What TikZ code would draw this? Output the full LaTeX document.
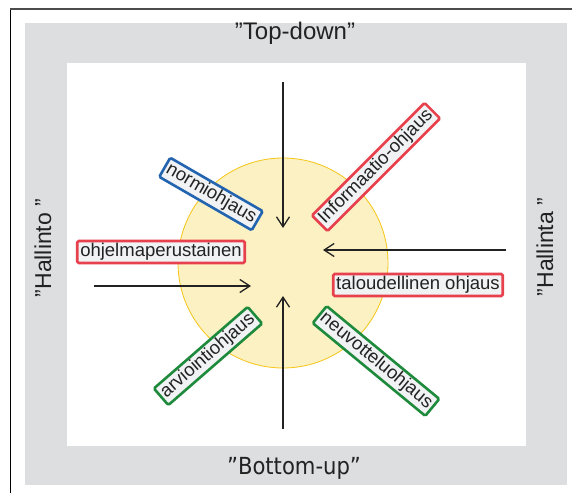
\documentclass[tikz,border=0pt]{standalone}
\usepackage{fontspec}
\setmainfont{Liberation Sans}
\newfontfamily\condfont{DejaVu Sans Condensed}
\usetikzlibrary{arrows.meta}

\definecolor{bandgray}{HTML}{DDDEE0}
\definecolor{corefill}{HTML}{FBF1C2}
\definecolor{coreline}{HTML}{F5C518}
\definecolor{boxfill}{HTML}{F1F2F4}
\definecolor{redline}{HTML}{E8414E}
\definecolor{blueline}{HTML}{2264B0}
\definecolor{greenline}{HTML}{1E8A3C}
\definecolor{ink}{HTML}{222222}

\tikzset{
  steerbox/.style={draw, line width=2.6pt, rounded corners=1.5pt, fill=boxfill,
    inner xsep=3pt, inner ysep=2.5pt, text height=13pt, text depth=4pt,
    font=\fontsize{18.5}{20}\selectfont, text=ink},
  redbox/.style={steerbox, draw=redline},
  bluebox/.style={steerbox, draw=blueline},
  greenbox/.style={steerbox, draw=greenline},
  flow/.style={draw=ink, line width=1.3pt, -{Straight Barb[length=10pt,width=13pt,line width=1.3pt]}},
  sidetitle/.style={font=\fontsize{23}{25}\selectfont, text=ink, inner sep=0pt},
}

\begin{document}
\begin{tikzpicture}[x=1pt, y=-1pt]
  \useasboundingbox (0,0) rectangle (572,493);

  % outer frame (only top and left edges fall inside the page)
  \draw[black, line width=1pt] (10,9) -- (10,493);
  \draw[gray!60!black, line width=1.3pt] (10,9) -- (572,9);

  % grey band and white field
  \fill[bandgray] (25,23) rectangle (567,485);
  \fill[white] (67,63) rectangle (526,446);

  % band titles
  \node[sidetitle, font=\fontsize{24}{26}\selectfont] (top) at (295,33) {”Top-down”};
  \node[sidetitle, font=\condfont\fontsize{23.5}{25}\selectfont] (bottom) at (294,468) {”Bottom-up”};
  \node[sidetitle, rotate=90] (left) at (43,248) {”Hallinto ”};
  \node[sidetitle, rotate=90] (right) at (545,247) {”Hallinta ”};

  % central disc
  \node[circle, draw=coreline, fill=corefill, line width=0.8pt, minimum size=210pt, inner sep=0pt] (core) at (283,263) {};

  % arrow ends
  \coordinate (nIn)  at (283,82);
  \coordinate (nOut) at (283,228);
  \coordinate (sIn)  at (283,429);
  \coordinate (sOut) at (283,296);
  \coordinate (eIn)  at (506,250);
  \coordinate (eOut) at (323,250);
  \coordinate (wIn)  at (94,286);
  \coordinate (wOut) at (251,286);

  \draw[flow] (nIn) -- (nOut);
  \draw[flow] (sIn) -- (sOut);
  \draw[flow] (eIn) -- (eOut);
  \draw[flow] (wIn) -- (wOut);

  % steering instruments
  \node[bluebox, rotate=-30] (norm) at (211,194) {normiohjaus};
  \node[redbox, rotate=45] (info) at (376,167) {Informaatio-ohjaus};
  \node[redbox] (prog) at (161,252) {ohjelmaperustainen};
  \node[redbox] (econ) at (418,285) {taloudellinen ohjaus};
  \node[greenbox, rotate=41] (eval) at (208,356) {arviointiohjaus};
  \node[greenbox, rotate=-39.5] (nego) at (376,361) {neuvotteluohjaus};
\end{tikzpicture}
\end{document}
